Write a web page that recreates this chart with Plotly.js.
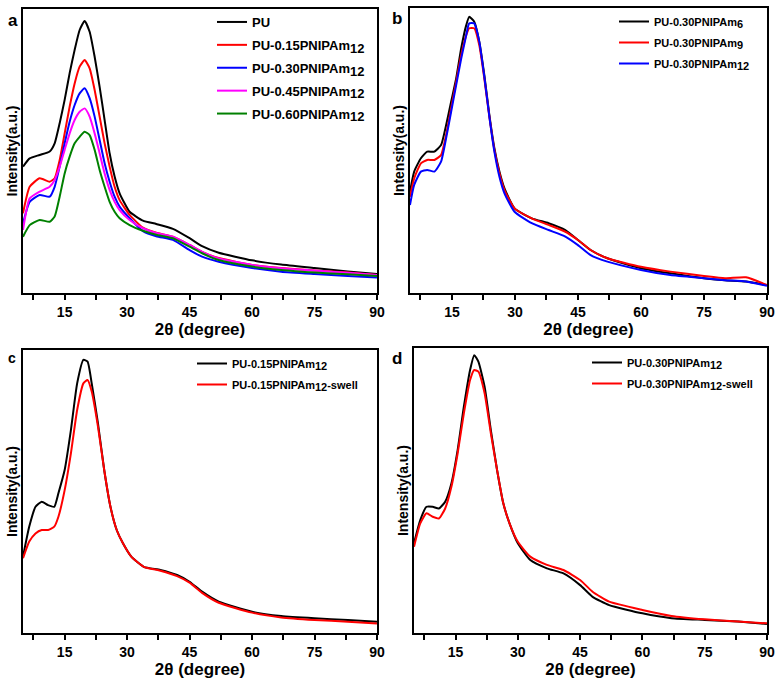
<!DOCTYPE html>
<html>
<head>
<meta charset="utf-8">
<script src="https://cdn.plot.ly/plotly-3.0.1.min.js"></script>
<style>html,body{margin:0;padding:0;background:#fff}#chart{width:780px;height:680px}</style>
</head>
<body>
<div id="chart"></div>
<script>
// ---- Panel a ----
const aX     = [5,6.6,9,11.4,12.6,13.8,15,16.2,17.4,18.6,19.8,21,22.2,23.4,24.6,25.8,27,28.2,30.6,33.8,37,41,45,48,52,60,67,75,83,90];
const aY_PU  = [44.5,47.4,48.6,49.8,52.7,59.8,68.0,77.4,85.6,92.6,95.8,92.0,83.2,72.6,60.9,49.2,41.0,35.1,28.6,25.5,24.3,22.6,19.3,16.5,14.2,11.5,10.0,8.8,7.6,6.7];
const aY_15  = [28.1,37.4,40.4,39.2,40.4,46.8,56.2,65.6,73.8,79.7,82.0,79.1,71.5,62.1,52.7,44.5,37.4,32.7,27.5,23.0,21.2,19.8,16.9,14.5,12.3,9.9,8.8,7.9,7.2,6.3];
const aY_30  = [24.5,32.1,34.5,33.9,37.4,44.5,52.7,60.3,66.2,70.3,72.1,68.6,62.1,53.9,45.7,39.2,33.9,30.4,26.3,21.8,20.0,18.7,15.1,12.8,11.0,8.8,7.5,6.7,6.0,5.5];
const aY_45  = [22.2,33.3,35.7,37.4,39.8,44.5,50.4,56.2,60.9,63.8,65.0,62.1,56.2,49.2,42.1,36.3,32.1,29.2,25.7,22.8,21.1,19.8,16.9,14.5,12.2,9.9,8.7,7.9,7.1,6.3];
const aY_60  = [19.8,23.9,25.7,25.1,26.9,33.9,42.1,48.0,52.7,55.0,56.8,55.6,50.4,43.3,37.4,32.1,28.6,26.3,23.9,21.9,20.5,19.3,16.3,14.0,11.6,9.3,8.1,7.2,6.6,6.0];

// ---- Panel b ----
const bX     = [5,6,7.6,9.1,10.8,12.4,13.6,14.8,16,17.2,18.4,19.1,20.3,21.5,22.7,23.9,25.1,26.3,27.5,29.9,34,38,42,45,48,52,60,67,75,80,85,90];
const bY_6   = [35.5,42.6,47.3,49.6,49.6,51.9,58.9,67.1,75.3,85.9,94.0,96.9,95.2,88.2,76.5,62.5,50.8,42.6,36.7,29.7,26.2,24.5,22.1,18.6,15.1,12.2,8.7,6.9,5.2,4.5,4.0,2.8];
const bY_9   = [33.8,40.2,45.5,46.7,46.7,48.4,55.4,64.8,74.1,83.5,90.5,92.9,92.9,87.0,75.3,61.9,50.2,42.0,36.1,29.7,26.2,23.9,21.5,18.6,15.1,12.2,9.2,7.5,6.0,5.2,5.5,2.8];
const bY_12  = [30.9,37.9,42.6,43.2,42.6,46.1,54.3,63.6,73.0,82.3,90.5,94.6,94.6,88.2,75.9,61.9,49.6,40.8,35.0,28.5,24.5,22.1,19.8,16.8,13.3,11.0,8.1,6.3,5.2,4.5,4.0,2.5];

// ---- Panel c ----
const cX     = [5,6.5,8,9.5,11,12.5,13.5,15,16.5,18,19.5,20.5,21.5,23,24.5,26,27.5,29,31,34,38,42,45,48,52,60,67,75,83,90];
const cY_15  = [27.0,37.6,44.6,46.4,45.2,44.6,49.4,57.6,71.7,88.2,96.5,95.9,88.2,74.1,57.6,44.6,36.4,31.7,27.0,23.4,22.3,20.5,18.1,14.6,11.1,7.5,6.0,5.2,4.6,4.0];
const cY_15s = [26.4,32.3,35.2,36.4,36.4,37.6,41.1,50.5,63.5,78.8,88.2,89.4,85.3,72.9,57.6,44.6,36.4,31.7,27.0,23.4,22.0,20.1,17.8,14.2,10.7,7.2,5.5,4.6,4.0,3.4];

// ---- Panel d ----
const dX     = [5,6.5,8,9.5,11,12.5,14,15.5,17,18.5,19.5,20.5,22,23.5,25,26.5,28,30,33,37,41,45,48,52,60,67,75,83,90];
const dY_30  = [31.5,39.6,44.3,44.3,43.7,46.1,52.5,64.2,79.4,92.3,97.5,95.2,86.4,71.2,57.2,45.5,38.5,31.5,25.6,22.7,20.9,16.8,12.7,9.8,6.9,5.2,4.6,4.0,3.2];
const dY_30s = [30.3,38.5,42.0,40.8,40.2,43.7,51.3,63.0,77.1,88.8,92.3,91.7,84.1,70.1,57.2,45.5,38.5,32.0,26.8,23.9,22.1,18.6,14.5,11.0,8.1,6.0,4.8,4.0,3.4];

const xTickVals = [15,30,45,60,75,90];
const xMinorVals = [7.5,22.5,37.5,52.5,67.5,82.5];
const panelLabels = ['a','b','c','d'];

const FONT = 'Liberation Sans, Arial, sans-serif';
function nm(base, sub, tail, subSize) {
  return '<b>' + base + (sub ? '<sub><span style="font-size:' + subSize + 'px">' + sub + '</span></sub>' : '') + (tail || '') + '</b>';
}
let gid = 0;
function tr(x, y, name, color, xa, ya, lg) {
  gid += 1;
  return {x: x, y: y, name: name, type: 'scatter', mode: 'lines',
          line: {color: color, width: 2, shape: 'spline', smoothing: 0.5},
          xaxis: xa, yaxis: ya, legend: lg, legendgroup: 'g' + gid, hoverinfo: 'skip'};
}
const traces = [
  tr(aX, aY_PU, nm('PU'), '#000000', 'x', 'y', 'legend'),
  tr(aX, aY_15, nm('PU-0.15PNIPAm', '12', '', 13), '#ff0000', 'x', 'y', 'legend'),
  tr(aX, aY_30, nm('PU-0.30PNIPAm', '12', '', 13), '#0000ff', 'x', 'y', 'legend'),
  tr(aX, aY_45, nm('PU-0.45PNIPAm', '12', '', 13), '#ff00ff', 'x', 'y', 'legend'),
  tr(aX, aY_60, nm('PU-0.60PNIPAm', '12', '', 13), '#008000', 'x', 'y', 'legend'),
  tr(bX, bY_6, nm('PU-0.30PNIPAm', '6', '', 11), '#000000', 'x2', 'y2', 'legend2'),
  tr(bX, bY_9, nm('PU-0.30PNIPAm', '9', '', 11), '#ff0000', 'x2', 'y2', 'legend2'),
  tr(bX, bY_12, nm('PU-0.30PNIPAm', '12', '', 11), '#0000ff', 'x2', 'y2', 'legend2'),
  tr(cX, cY_15, nm('PU-0.15PNIPAm', '12', '', 11), '#000000', 'x3', 'y3', 'legend3'),
  tr(cX, cY_15s, nm('PU-0.15PNIPAm', '12', '-swell', 11), '#ff0000', 'x3', 'y3', 'legend3'),
  tr(dX, dY_30, nm('PU-0.30PNIPAm', '12', '', 11), '#000000', 'x4', 'y4', 'legend4'),
  tr(dX, dY_30s, nm('PU-0.30PNIPAm', '12', '-swell', 11), '#ff0000', 'x4', 'y4', 'legend4')
];

function xax(domain, anchor) {
  return {domain: domain, anchor: anchor, range: [5, 90], showline: true, mirror: true,
          linecolor: '#000', linewidth: 2, ticks: 'outside', ticklen: 5, tickwidth: 2,
          tickcolor: '#000', tickvals: xTickVals, showgrid: false, zeroline: false,
          minor: {ticks: 'outside', tickvals: xMinorVals, ticklen: 5, tickwidth: 2, tickcolor: '#000', showgrid: false},
          tickfont: {family: FONT, size: 14, color: '#000', weight: 'bold'},
          title: {text: '<b>2θ (degree)</b>', font: {family: FONT, size: 17, color: '#000'}, standoff: 2},
          automargin: false};
}
function yax(domain, anchor) {
  return {domain: domain, anchor: anchor, range: [0, 100], showline: true, mirror: true,
          linecolor: '#000', linewidth: 2, ticks: '', showticklabels: false,
          showgrid: false, zeroline: false,
          title: {text: '<b>Intensity(a.u.)</b>', font: {family: FONT, size: 14, color: '#000'}, standoff: 0},
          automargin: false};
}
function lg(x, y, size, gap) {
  return {x: x, y: y, xanchor: 'left', yanchor: 'top', bgcolor: 'rgba(0,0,0,0)',
          borderwidth: 0, font: {family: FONT, size: size, color: '#000'}, tracegroupgap: gap,
          itemwidth: 30};
}

const layout = {
  width: 780, height: 680, margin: {l: 0, r: 0, t: 0, b: 0},
  paper_bgcolor: '#fff', plot_bgcolor: '#fff', showlegend: true,
  xaxis: xax([0.0295, 0.4833], 'y'),
  yaxis: yax([0.5691, 0.9868], 'x'),
  xaxis2: xax([0.5256, 0.9833], 'y2'),
  yaxis2: yax([0.5691, 0.9882], 'x2'),
  xaxis3: xax([0.0295, 0.4833], 'y3'),
  yaxis3: yax([0.0691, 0.4853], 'x3'),
  xaxis4: xax([0.5308, 0.9833], 'y4'),
  yaxis4: yax([0.0691, 0.4882], 'x4'),
  legend: lg(212/780, 1 - 7/680, 13, 3),
  legend2: lg(614/780, 1 - 7/680, 11, 2),
  legend3: lg(192/780, 1 - 349/680, 11, 2),
  legend4: lg(587/780, 1 - 348/680, 11, 2),
  annotations: [
    {text: '<b>' + panelLabels[0] + '</b>', x: 13/780, y: 1 - 20/680, size: 17},
    {text: '<b>' + panelLabels[1] + '</b>', x: 397/780, y: 1 - 18/680, size: 17},
    {text: '<b>' + panelLabels[2] + '</b>', x: 12/780, y: 1 - 358/680, size: 14},
    {text: '<b>' + panelLabels[3] + '</b>', x: 397/780, y: 1 - 358/680, size: 17}
  ].map(a => ({text: a.text, x: a.x, y: a.y, xref: 'paper', yref: 'paper', showarrow: false,
        xanchor: 'center', yanchor: 'middle', font: {family: FONT, size: a.size, color: '#000'}}))
};

Plotly.newPlot('chart', traces, layout, {staticPlot: true, displayModeBar: false});
</script>
</body>
</html>
